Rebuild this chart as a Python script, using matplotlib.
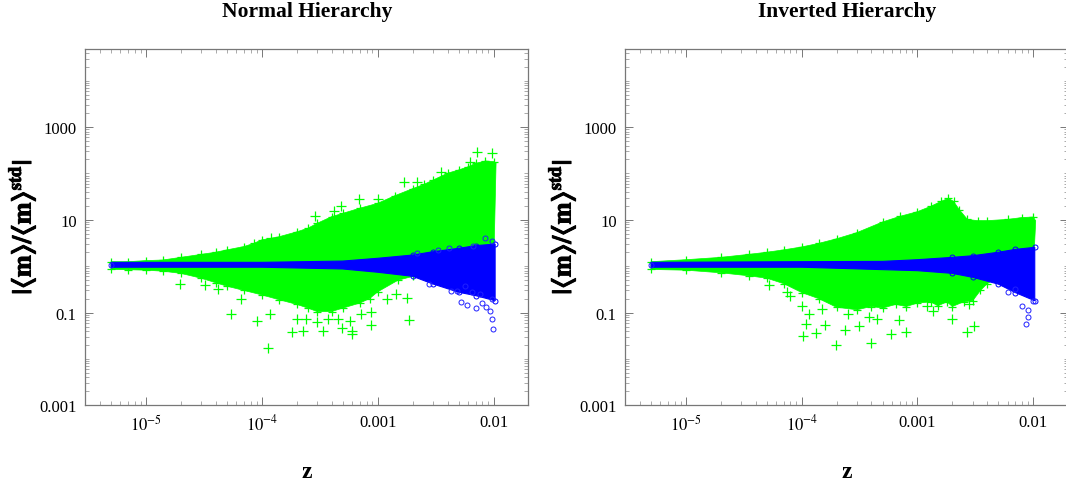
import matplotlib
matplotlib.use('Agg')
import matplotlib.pyplot as plt
import matplotlib.patheffects as pe
from matplotlib.ticker import FixedLocator, NullFormatter

plt.rcParams['font.family'] = ['Liberation Serif', 'DejaVu Sans']
plt.rcParams['mathtext.fontset'] = 'stix'

# --- normal hierarchy
nh_up_z = [5e-6, 7e-6, 1e-5, 1.4e-5, 2e-5, 3e-5, 4e-5, 5e-5, 7e-5, 8.5e-5, 1e-4, 1.4e-4, 2e-4, 2.5e-4, 3e-4,
           4e-4, 5e-4, 7e-4, 1e-3, 1.4e-3, 2e-3, 2.5e-3, 3e-3, 4e-3, 5e-3, 6e-3, 7e-3, 8.5e-3, 1e-2, 1.05e-2]
nh_up_y = [1.25, 1.25, 1.32, 1.36, 1.55, 1.8, 2.0, 2.25, 2.65, 3.1, 3.7, 4.3, 5.5, 6.6, 8.4,
           11.7, 13.8, 17.8, 22.7, 33, 47, 58, 72, 101, 119, 139, 165, 186, 180, 170]
nh_lo_z = [5e-6, 7e-6, 1e-5, 1.4e-5, 2e-5, 3e-5, 4e-5, 5e-5, 7e-5, 1e-4, 1.4e-4, 2e-4, 2.5e-4, 3e-4,
           4e-4, 5e-4, 7e-4, 8.5e-4, 1e-3, 1.5e-3, 2e-3, 3e-3, 5e-3, 1e-2]
nh_lo_y = [0.85, 0.84, 0.82, 0.78, 0.7, 0.55, 0.44, 0.37, 0.3, 0.24, 0.19, 0.15, 0.125, 0.105,
           0.105, 0.125, 0.16, 0.2, 0.28, 0.5, 0.6, 0.65, 0.7, 0.8]
nh_blue_up_z = [5e-6, 1e-4, 5e-4, 1e-3, 2e-3, 3e-3, 5e-3, 7e-3, 1.03e-2]
nh_blue_up_y = [1.21, 1.21, 1.29, 1.48, 1.74, 2.05, 2.43, 2.77, 3.0]
nh_blue_lo_z = [5e-6, 1e-4, 5e-4, 1e-3, 2e-3, 3e-3, 5e-3, 7e-3, 1.03e-2]
nh_blue_lo_y = [0.95, 0.95, 0.87, 0.74, 0.605, 0.413, 0.274, 0.232, 0.18]
nh_plus_z = [1.98e-5, 5.46e-5, 9e-5, 1.14e-4, 1.18e-4, 1.82e-4, 2.26e-4, 3.4e-4, 4.9e-4, 6e-4, 6e-4, 5.75e-4,
             8.7e-4, 1.86e-3, 1.78e-3, 1.45e-3, 1.2e-3, 3e-4, 2.4e-4, 3.7e-4, 2e-4, 7.2e-4, 8.7e-4, 3.2e-5,
             4.2e-5, 6.6e-5, 4.5e-4, 7.2e-3, 9.6e-3, 4.8e-4, 2.9e-4, 6.9e-4, 1.7e-3, 2.2e-3, 3.5e-3, 6.2e-3,
             1.2e-4, 4.2e-4, 1e-3]
nh_plus_y = [0.413, 0.093, 0.066, 0.0175, 0.093, 0.0376, 0.0394, 0.0394, 0.0457, 0.0347, 0.0409, 0.066,
             0.055, 0.069, 0.204, 0.25, 0.196, 0.062, 0.072, 0.072, 0.072, 0.093, 0.102, 0.39,
             0.32, 0.196, 0.072, 295, 270, 20, 12.3, 28, 66, 64, 105, 174,
             4.0, 15.8, 28]
nh_circ_z = [5e-6, 8.5e-3, 9.6e-3, 6.7e-3, 3.3e-3, 2.2e-3, 4.1e-3, 9.8e-3, 9.6e-3, 9.3e-3, 7e-3, 5.9e-3, 5.2e-3,
             2.75e-3, 4.8e-3, 4.3e-3, 8.6e-3, 8e-3, 9.7e-3, 6.5e-3, 5.7e-3, 7.6e-3]
nh_circ_y = [1.08, 4.1, 3.5, 2.7, 2.27, 1.9, 2.43, 0.0436, 0.0728, 0.11, 0.124, 0.146, 0.172,
             0.413, 0.292, 0.297, 0.13, 0.161, 0.196, 0.274, 0.38, 0.25]

# --- inverted hierarchy
ih_up_z = [5e-6, 1e-5, 2e-5, 3.5e-5, 5e-5, 7e-5, 1e-4, 1.4e-4, 2e-4, 3e-4, 5e-4, 7e-4, 1e-3, 1.3e-3, 1.6e-3,
           1.85e-3, 2.05e-3, 2.3e-3, 2.7e-3, 3.3e-3, 4e-3, 6e-3, 8e-3, 1e-2, 1.05e-2]
ih_up_y = [1.25, 1.38, 1.55, 1.8, 2.0, 2.25, 2.6, 3.1, 3.9, 5.3, 9.0, 11.8, 15, 19.5, 25,
           29, 25, 16.5, 10.2, 9.6, 9.6, 10.2, 11.2, 11.5, 9.5]
ih_lo_z = [5e-6, 1e-5, 2e-5, 3.5e-5, 5e-5, 7e-5, 1e-4, 1.4e-4, 2e-4, 3e-4, 4e-4, 5e-4, 6.5e-4, 8e-4, 1e-3,
           1.3e-3, 1.5e-3, 1.8e-3, 2e-3, 2.5e-3, 3e-3, 3.5e-3, 4e-3, 5e-3, 1e-2]
ih_lo_y = [0.85, 0.82, 0.72, 0.62, 0.55, 0.42, 0.27, 0.2, 0.13, 0.115, 0.135, 0.125, 0.15, 0.135, 0.16,
           0.17, 0.14, 0.17, 0.135, 0.17, 0.18, 0.3, 0.42, 0.58, 0.8]
ih_blue_up_z = [5e-6, 1e-4, 5e-4, 1e-3, 2e-3, 3e-3, 5e-3, 7e-3, 1.03e-2]
ih_blue_up_y = [1.21, 1.25, 1.27, 1.38, 1.55, 1.68, 2.0, 2.3, 2.55]
ih_blue_lo_z = [5e-6, 1e-4, 1e-3, 2e-3, 3e-3, 5e-3, 7e-3, 1.03e-2]
ih_blue_lo_y = [0.95, 0.95, 0.8, 0.7, 0.575, 0.41, 0.27, 0.18]
ih_plus_z = [5.25e-5, 7.4e-5, 7.9e-5, 1e-4, 1.03e-4, 1.32e-4, 1.58e-4, 1.97e-4, 4e-4, 5.9e-4, 8e-4, 2.66e-3,
             3.1e-3, 2.37e-4, 3.1e-4, 1.1e-4, 1.15e-4, 6.9e-4, 2e-3, 3.8e-4, 4.5e-4, 2.5e-4, 1.37e-3, 1.2e-3,
             2.8e-3, 1.5e-4]
ih_plus_y = [0.39, 0.28, 0.23, 0.14, 0.0316, 0.0357, 0.054, 0.0195, 0.0219, 0.0347, 0.0389, 0.0389,
             0.0525, 0.0427, 0.0525, 0.056, 0.093, 0.068, 0.072, 0.079, 0.072, 0.093, 0.11, 0.14,
             0.155, 0.12]
ih_circ_z = [5e-6, 8.7e-3, 9e-3, 9e-3, 8e-3, 6e-3, 1e-2, 7e-3]
ih_circ_y = [1.08, 0.056, 0.081, 0.116, 0.14, 0.274, 0.18, 0.32]

x_ticks = [1e-5, 1e-4, 1e-3, 1e-2]
x_labels = ['$10^{-5}$', '$10^{-4}$', '0.001', '0.01']
y_ticks = [1e-3, 1e-1, 1e1, 1e3]
y_labels = ['0.001', '0.1', '10', '1000']

W, H = 1066, 489


def draw(box, cx, title, up_z, up_y, lo_z, lo_y, b_up_z, b_up_y, b_lo_z, b_lo_y, plus_z, plus_y, circ_z, circ_y):
    x0, x1, y0, y1 = box
    ax = fig.add_axes([x0 / W, 1 - y1 / H, (x1 - x0) / W, (y1 - y0) / H])
    ax.set_xscale('log')
    ax.set_yscale('log')

    # green band, envelope
    ax.fill(list(up_z) + list(lo_z)[::-1], list(up_y) + list(lo_y)[::-1], color='#00ff00', lw=0.5, zorder=2)
    ax.plot(up_z[:-1], up_y[:-1], '+', color='#00ff00', ms=6, mew=0.9, zorder=2)
    ax.plot(lo_z[:-1], lo_y[:-1], '+', color='#00ff00', ms=6, mew=0.9, zorder=2)
    ax.plot(plus_z, plus_y, '+', color='#00ff00', ms=7.5, mew=0.9, zorder=2)

    # blue band on top, circles only show where it has opened up
    ax.fill(list(b_up_z) + list(b_lo_z)[::-1], list(b_up_y) + list(b_lo_y)[::-1], color='#0000ff', lw=0.8, zorder=3)
    for zs, ys in [(b_up_z, b_up_y), (b_lo_z, b_lo_y)]:
        ax.plot(zs[-5:], ys[-5:], 'o', mfc='none', mec='#0000ff', ms=3.6, mew=0.7, zorder=3)
    ax.plot(circ_z, circ_y, 'o', mfc='none', mec='#2020ff', ms=3.6, mew=0.7, zorder=3)

    ax.set_xlim(10 ** -5.526, 10 ** -1.70)
    ax.set_ylim(1e-3, 10 ** 4.69)

    ax.xaxis.set_major_locator(FixedLocator(x_ticks))
    ax.set_xticklabels(x_labels)
    ax.xaxis.set_minor_locator(FixedLocator([m * 10.0 ** e for e in range(-6, -1) for m in range(2, 10)]))
    ax.yaxis.set_major_locator(FixedLocator(y_ticks))
    ax.set_yticklabels(y_labels)
    y_minor = [m * 10.0 ** e for e in range(-3, 5) for m in range(1, 10) if not (m == 1 and e in (-3, -1, 1, 3))]
    ax.yaxis.set_minor_locator(FixedLocator(y_minor))
    ax.xaxis.set_minor_formatter(NullFormatter())
    ax.yaxis.set_minor_formatter(NullFormatter())

    ax.tick_params(which='major', direction='in', top=True, right=True, length=6, width=0.7,
                   color='#777777', labelsize=12, labelcolor='black', pad=6)
    ax.tick_params(which='minor', direction='in', top=True, right=True, length=3, width=0.5, color='#888888')
    for s in ax.spines.values():
        s.set_color('#777777')
        s.set_linewidth(0.9)

    fig.text(cx / W, 1 - 16.5 / H, title, ha='center', va='baseline', fontsize=15.5, fontweight='bold')
    fig.text(cx / W, 1 - 472 / H, 'z', ha='center', va='center', fontsize=17, fontweight='bold')
    lab = fig.text((x0 - 62) / W, 1 - 228 / H, r'$\mathbf{|\langle m\rangle/\langle m\rangle^{std}|}$',
                   rotation=90, ha='center', va='center', fontsize=19)
    lab.set_path_effects([pe.withStroke(linewidth=0.7, foreground='black')])


fig = plt.figure(figsize=(W / 100, H / 100), dpi=100)
draw((85, 528.4, 49.7, 406.3), 307, 'Normal Hierarchy', nh_up_z, nh_up_y, nh_lo_z, nh_lo_y,
     nh_blue_up_z, nh_blue_up_y, nh_blue_lo_z, nh_blue_lo_y, nh_plus_z, nh_plus_y, nh_circ_z, nh_circ_y)
draw((625, 1068, 49.7, 406.3), 847, 'Inverted Hierarchy', ih_up_z, ih_up_y, ih_lo_z, ih_lo_y,
     ih_blue_up_z, ih_blue_up_y, ih_blue_lo_z, ih_blue_lo_y, ih_plus_z, ih_plus_y, ih_circ_z, ih_circ_y)
fig.savefig('out.png', dpi=100)
